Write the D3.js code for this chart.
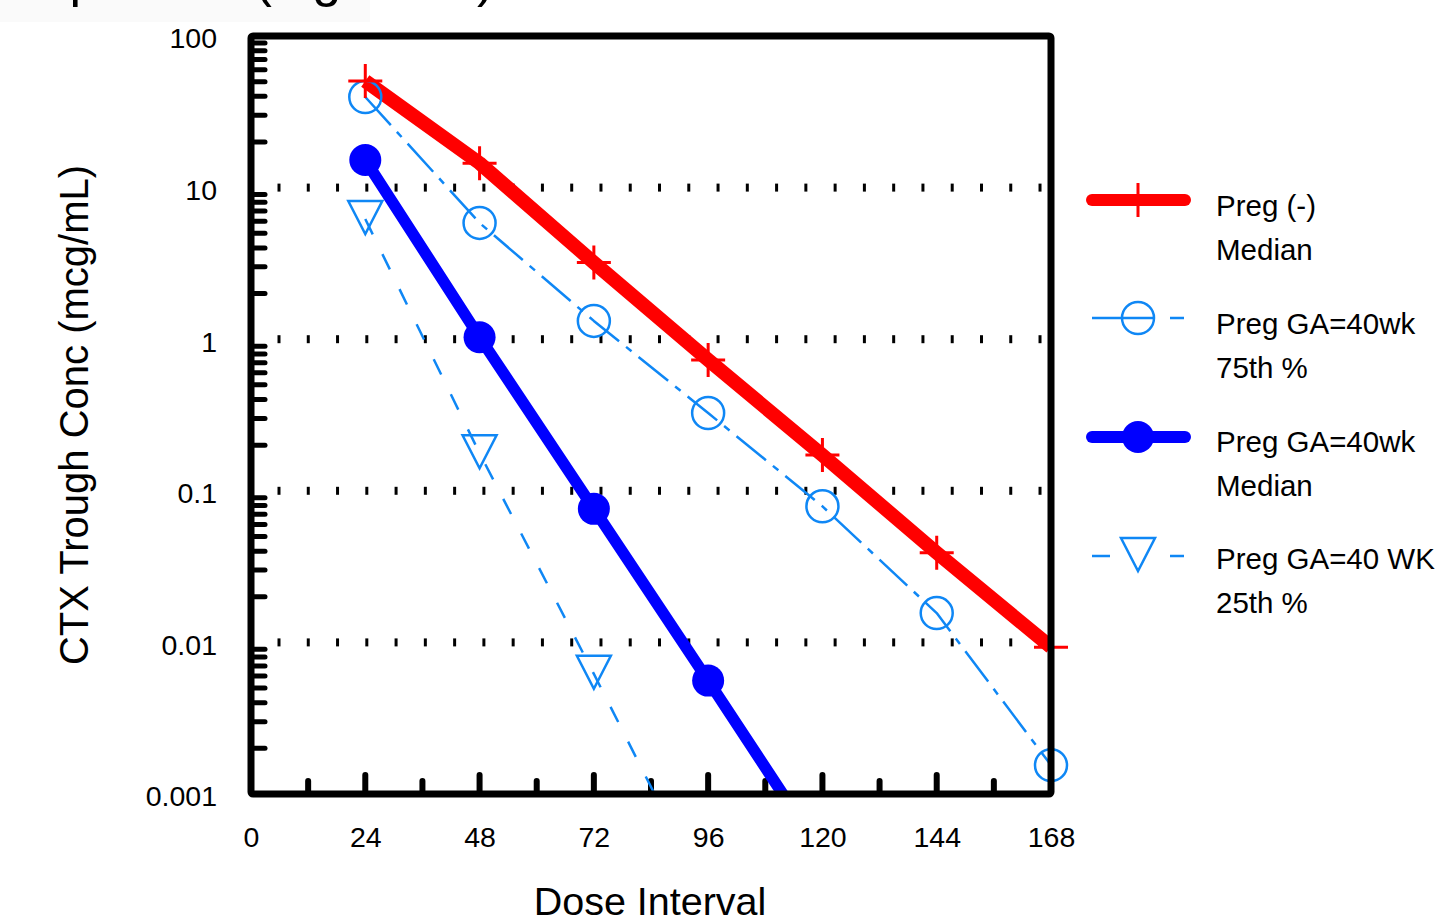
<!DOCTYPE html>
<html>
<head>
<meta charset="utf-8">
<script src="https://cdn.jsdelivr.net/npm/d3@7"></script>
<style>
  body { margin: 0; background: #fff; }
  svg { display: block; font-family: "Liberation Sans", Arial, sans-serif; }
</style>
</head>
<body>
<svg width="1447" height="924"></svg>
<script>
// dose interval (h) and trough concentrations (mcg/mL)
var hours = [24, 48, 72, 96, 120, 144, 168];
var pregNegMedian = [50.5, 14.5, 3.2, 0.73, 0.172, 0.039, 0.0093];
var ga40P75 = [39.6, 5.85, 1.32, 0.326, 0.079, 0.0156, 0.00155];
var ga40Median = [15.2, 1.03, 0.076, 0.0056, 0.0004];
var ga40P25 = [6.2, 0.177, 0.0062, 0.0002];

var xTicks = [0, 24, 48, 72, 96, 120, 144, 168];
var yTicks = [100, 10, 1, 0.1, 0.01, 0.001];
var yTickLabels = ["100", "10", "1", "0.1", "0.01", "0.001"];
var legendLabels = [["Preg (-)", "Median"], ["Preg GA=40wk", "75th %"],
                    ["Preg GA=40wk", "Median"], ["Preg GA=40 WK", "25th %"]];

var red = "#ff0000", blue = "#0000ff", lightBlue = "#0f87f5";

function main() {
    var svg = d3.select("svg");

    var x = d3.scaleLinear().domain([0, 168]).range([251, 1051]);
    var y = d3.scaleLog().domain([0.001, 100]).range([794, 36]);

    // cropped slide title at the very top
    svg.append("rect").attr("x", 0).attr("y", 0).attr("width", 370).attr("height", 22).attr("fill", "#fafafa");
    var tmp = svg.append("text").attr("font-size", "52px").text("Comparison ");
    var w = tmp.node().getComputedTextLength();
    tmp.remove();
    svg.append("text")
       .attr("x", 240 - w)
       .attr("y", -4)
       .attr("font-size", "52px")
       .text("Comparison (log scale)");

    svg.append("clipPath").attr("id", "plotclip")
       .append("rect")
       .attr("x", x(0)).attr("y", y(100))
       .attr("width", x(168) - x(0)).attr("height", y(0.001) - y(100));

    // dotted grid at decades
    var gridX = d3.range(0, 27).map(function(i) { return 279 + i * 29.27; });
    [10, 1, 0.1, 0.01].forEach(function(v) {
        svg.append("g").selectAll("line")
           .data(gridX).enter().append("line")
           .attr("x1", function(d) { return d; }).attr("x2", function(d) { return d; })
           .attr("y1", y(v) - 4).attr("y2", y(v) + 4)
           .attr("stroke", "#000").attr("stroke-width", 3);
    });

    // minor y ticks (inside)
    var minor = [];
    [0.001, 0.01, 0.1, 1, 10].forEach(function(dec) {
        for (var k = 2; k <= 9; k++) minor.push(k * dec);
    });
    svg.append("g").selectAll("line")
       .data(minor).enter().append("line")
       .attr("x1", x(0)).attr("x2", x(0) + 14)
       .attr("y1", function(d) { return y(d); }).attr("y2", function(d) { return y(d); })
       .attr("stroke", "#000").attr("stroke-width", 5).attr("stroke-linecap", "round");

    // x ticks (inside), major every 24h, minor at 12h offsets
    var xt = d3.range(12, 168, 12);
    svg.append("g").selectAll("line")
       .data(xt).enter().append("line")
       .attr("x1", function(d) { return x(d); }).attr("x2", function(d) { return x(d); })
       .attr("y1", y(0.001))
       .attr("y2", function(d) { return y(0.001) - (d % 24 === 0 ? 19 : 13); })
       .attr("stroke", "#000").attr("stroke-width", 6).attr("stroke-linecap", "round");

    // axis labels
    svg.append("g")
       .attr("transform", "translate(" + x(0) + ",0)")
       .call(d3.axisLeft(y).tickValues(yTicks).tickSize(0).tickPadding(34)
             .tickFormat(function(d, i) { return yTickLabels[i]; }))
       .call(function(g) {
           g.select(".domain").remove();
           g.selectAll("text").attr("font-size", "28.5px").attr("fill", "#000")
            .attr("dy", "0.42em")
            .attr("font-family", "Liberation Sans, Arial, sans-serif");
       });

    svg.append("g")
       .attr("transform", "translate(0," + y(0.001) + ")")
       .call(d3.axisBottom(x).tickValues(xTicks).tickSize(0).tickPadding(33))
       .call(function(g) {
           g.select(".domain").remove();
           g.selectAll("text").attr("font-size", "28.5px").attr("fill", "#000")
            .attr("font-family", "Liberation Sans, Arial, sans-serif");
       });

    svg.append("text")
       .attr("transform", "translate(88,415) rotate(-90)")
       .attr("text-anchor", "middle")
       .attr("font-size", "40px")
       .text("CTX Trough Conc (mcg/mL)");

    svg.append("text")
       .attr("x", 650).attr("y", 915)
       .attr("text-anchor", "middle")
       .attr("font-size", "39.5px")
       .text("Dose Interval");

    // series
    function pts(vals) {
        return vals.map(function(v, i) { return { h: hours[i], v: v }; });
    }
    var line = d3.line().x(function(d) { return x(d.h); }).y(function(d) { return y(d.v); });
    var plot = svg.append("g").attr("clip-path", "url(#plotclip)");

    function drawCross(g, cx, cy) {
        g.append("path")
         .attr("d", "M" + (cx - 17) + "," + cy + "H" + (cx + 17) + "M" + cx + "," + (cy - 17) + "V" + (cy + 17))
         .attr("stroke", red).attr("stroke-width", 3).attr("fill", "none");
    }
    function drawOpen(g, cx, cy) {
        g.append("circle").attr("cx", cx).attr("cy", cy).attr("r", 16)
         .attr("fill", "none").attr("stroke", lightBlue).attr("stroke-width", 2.5);
    }
    function drawFilled(g, cx, cy) {
        g.append("circle").attr("cx", cx).attr("cy", cy).attr("r", 16).attr("fill", blue);
    }
    function drawTri(g, cx, cy) {
        g.append("path")
         .attr("d", "M" + (cx - 17) + "," + (cy - 18) + "H" + (cx + 17) + "L" + cx + "," + (cy + 15) + "Z")
         .attr("fill", "none").attr("stroke", lightBlue).attr("stroke-width", 2.5);
    }

    var series = [
        { vals: ga40P25, color: lightBlue, width: 2.5, dash: "17,22", marker: drawTri },
        { vals: ga40P75, color: lightBlue, width: 2.5, dash: "38,9,7,9", marker: drawOpen },
        { vals: ga40Median, color: blue, width: 11.5, dash: null, marker: drawFilled },
        { vals: pregNegMedian, color: red, width: 14, dash: null, marker: drawCross }
    ];

    series.forEach(function(s) {
        var data = pts(s.vals);
        plot.append("path")
            .datum(data)
            .attr("d", line)
            .attr("fill", "none")
            .attr("stroke", s.color)
            .attr("stroke-width", s.width)
            .attr("stroke-linejoin", "round")
            .attr("stroke-dasharray", s.dash);
        var mg = svg.append("g");
        data.filter(function(d) { return d.v >= 0.001; }).forEach(function(d) {
            s.marker(mg, x(d.h), y(d.v));
        });
    });

    // frame
    svg.append("rect")
       .attr("x", x(0)).attr("y", y(100))
       .attr("width", x(168) - x(0)).attr("height", y(0.001) - y(100))
       .attr("fill", "none").attr("stroke", "#000").attr("stroke-width", 7)
       .attr("rx", 2);

    // legend
    var legY = [200, 318, 437, 556];
    var legBase = [216, 334, 452, 569];
    var leg = svg.append("g");

    leg.append("line").attr("x1", 1092).attr("x2", 1185).attr("y1", legY[0]).attr("y2", legY[0])
       .attr("stroke", red).attr("stroke-width", 12).attr("stroke-linecap", "round");
    drawCross(leg, 1138, legY[0]);

    leg.append("line").attr("x1", 1092).attr("x2", 1184).attr("y1", legY[1]).attr("y2", legY[1])
       .attr("stroke", lightBlue).attr("stroke-width", 2.5).attr("stroke-dasharray", "63,15,14");
    drawOpen(leg, 1138, legY[1]);

    leg.append("line").attr("x1", 1092).attr("x2", 1185).attr("y1", legY[2]).attr("y2", legY[2])
       .attr("stroke", blue).attr("stroke-width", 12).attr("stroke-linecap", "round");
    drawFilled(leg, 1138, legY[2]);

    leg.append("line").attr("x1", 1092).attr("x2", 1184).attr("y1", legY[3]).attr("y2", legY[3])
       .attr("stroke", lightBlue).attr("stroke-width", 2.5).attr("stroke-dasharray", "18,60,14");
    drawTri(leg, 1138, legY[3]);

    legendLabels.forEach(function(lines, i) {
        lines.forEach(function(t, j) {
            leg.append("text")
               .attr("x", 1216).attr("y", legBase[i] + j * 44)
               .attr("font-size", "29.5px")
               .text(t);
        });
    });
}
main();
</script>
</body>
</html>
